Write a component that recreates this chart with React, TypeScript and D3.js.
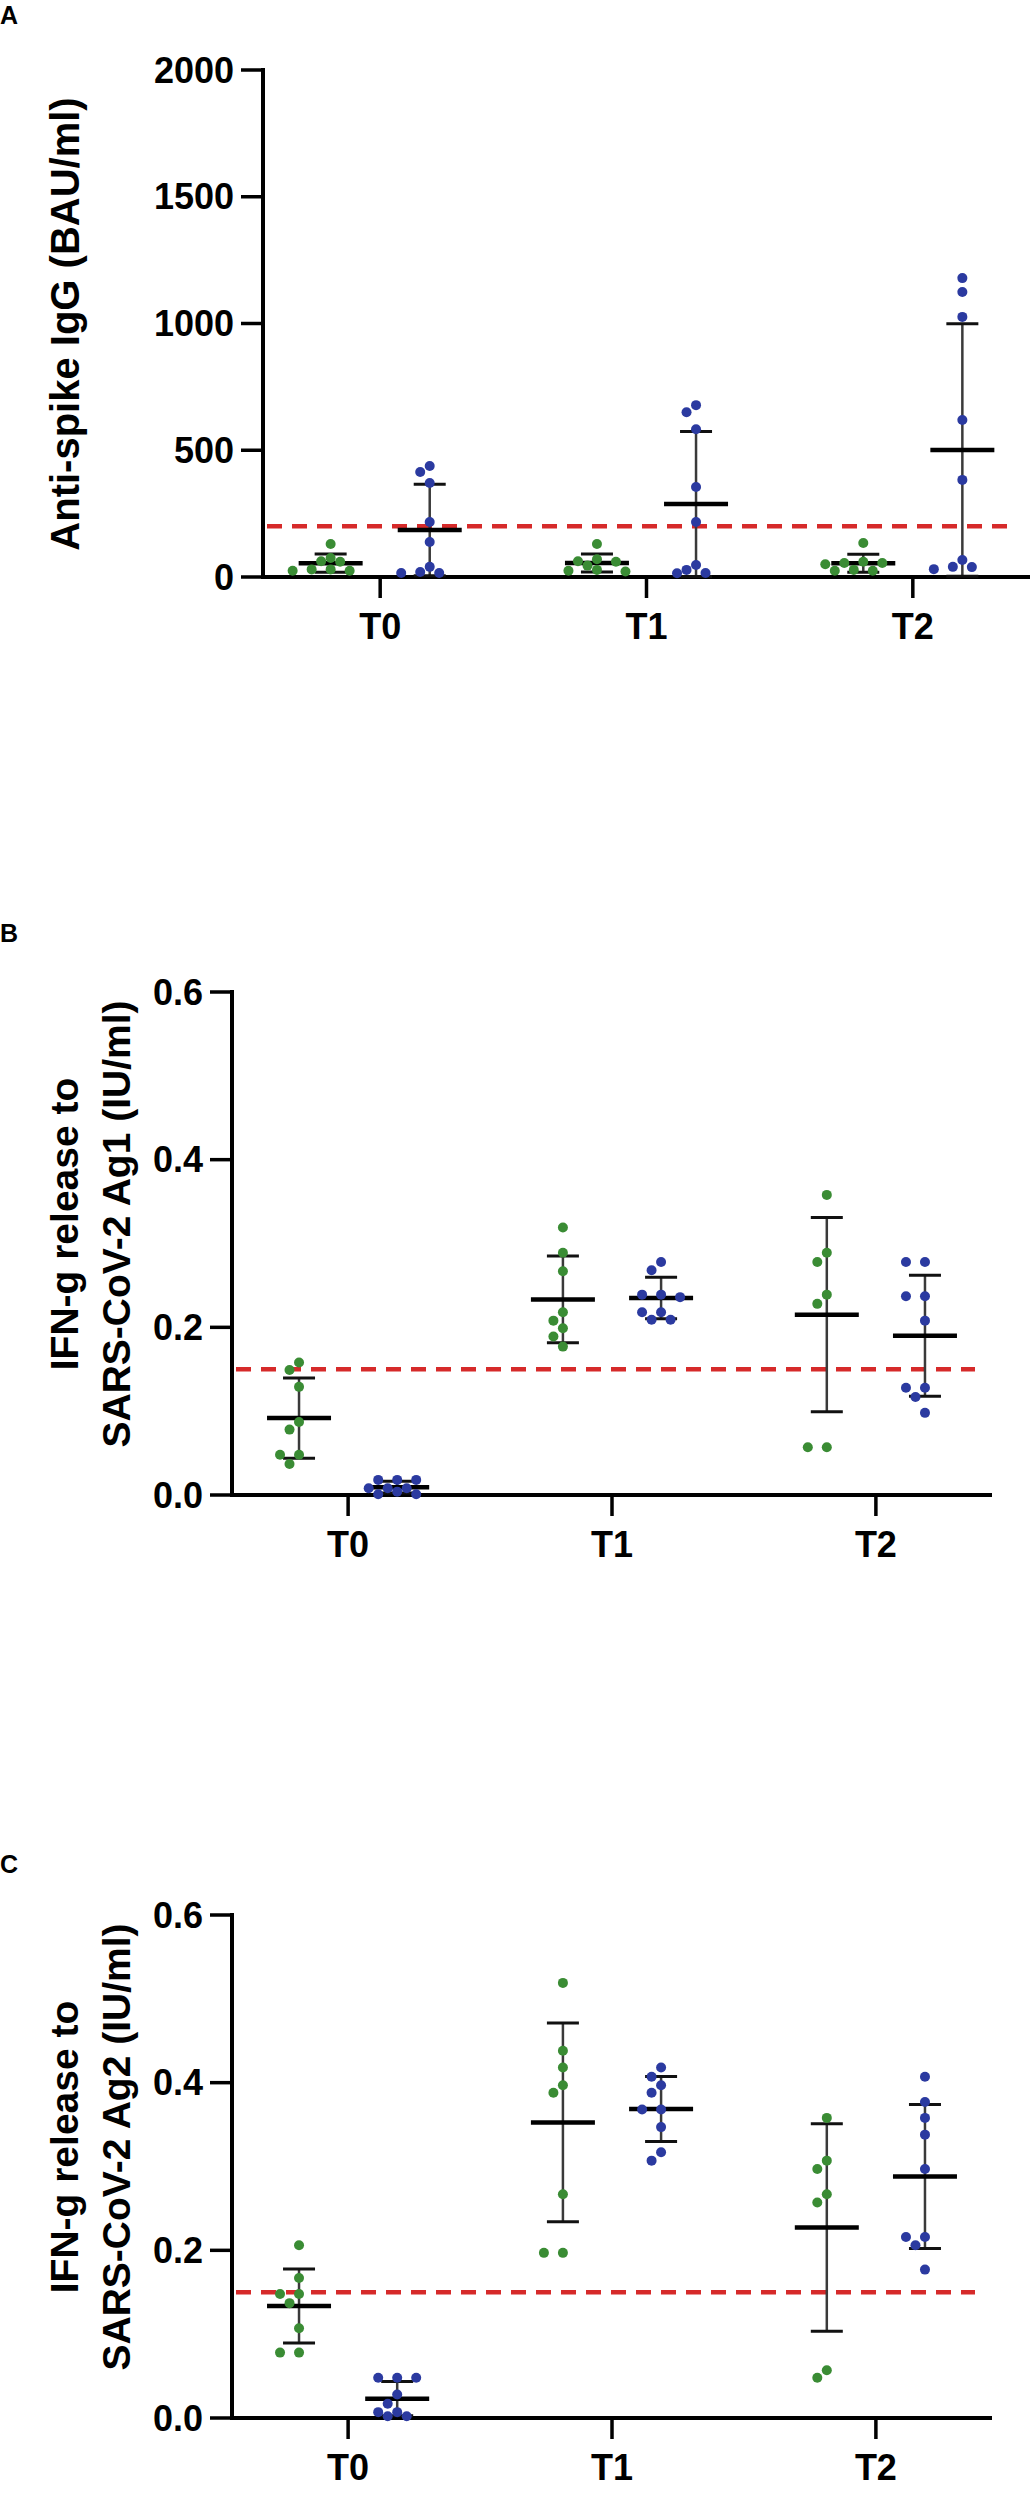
import React from "react";
import * as d3 from "d3";

// ---------- data ----------
const timepoints = ["T0", "T1", "T2"];
const panelLetters = ["A", "B", "C"];

const titleA = ["Anti-spike IgG (BAU/ml)"];
const titleB = ["IFN-g release to", "SARS-CoV-2 Ag1 (IU/ml)"];
const titleC = ["IFN-g release to", "SARS-CoV-2 Ag2 (IU/ml)"];

const ticksA = [0, 500, 1000, 1500, 2000];
const tickLabelsA = ["0", "500", "1000", "1500", "2000"];
const ticksBC = [0, 0.2, 0.4, 0.6];
const tickLabelsBC = ["0.0", "0.2", "0.4", "0.6"];

const thresholdA = 200;
const thresholdBC = 0.15;

// Panel A: anti-spike IgG
const aGreenT0 = [130, 60, 25, 30, 62, 25, 75, 30];
const aGreenT1 = [130, 62, 28, 45, 70, 25, 60, 22];
const aGreenT2 = [134, 55, 25, 50, 25, 55, 28, 60];
const aBlueT0 = [438, 414, 371, 217, 138, 40, 16, 16, 20];
const aBlueT1 = [678, 650, 583, 355, 217, 47, 15, 16, 28];
const aBlueT2 = [1179, 1124, 1026, 619, 383, 67, 31, 39, 40];

// Panel B: IFN-g Ag1
const bGreenT0 = [0.158, 0.149, 0.129, 0.087, 0.078, 0.048, 0.048, 0.037];
const bGreenT1 = [0.319, 0.289, 0.267, 0.218, 0.208, 0.199, 0.189, 0.177];
const bGreenT2 = [0.358, 0.289, 0.278, 0.239, 0.228, 0.057, 0.057];
const bBlueT0 = [0.018, 0.018, 0.018, 0.008, 0.008, 0.008, 0.004, 0.001, 0.001];
const bBlueT1 = [0.278, 0.268, 0.239, 0.236, 0.239, 0.218, 0.209, 0.209, 0.218];
const bBlueT2 = [0.278, 0.278, 0.237, 0.237, 0.208, 0.128, 0.128, 0.117, 0.098];

// Panel C: IFN-g Ag2
const cGreenT0 = [0.206, 0.167, 0.148, 0.148, 0.137, 0.107, 0.078, 0.078];
const cGreenT1 = [0.519, 0.438, 0.418, 0.397, 0.388, 0.267, 0.197, 0.197];
const cGreenT2 = [0.358, 0.307, 0.297, 0.267, 0.257, 0.057, 0.048];
const cBlueT0 = [0.048, 0.048, 0.048, 0.028, 0.017, 0.007, 0.007, 0.002, 0.002];
const cBlueT1 = [0.418, 0.407, 0.397, 0.388, 0.368, 0.368, 0.347, 0.307, 0.317];
const cBlueT2 = [0.407, 0.377, 0.358, 0.338, 0.297, 0.216, 0.216, 0.206, 0.177];

// ---------- styles ----------
const GREEN = "#3a8c34";
const BLUE = "#2b3aa0";
const RED = "#d62a2a";
const FONT = "'Liberation Sans', Arial, Helvetica, sans-serif";

const panels = [
  {
    letter: panelLetters[0], letterY: 24,
    title: titleA, titleSize: 40, titleBaselines: [79], titleCenter: 324,
    ticks: ticksA, tickLabels: tickLabelsA, yMax: 2000, threshold: thresholdA,
    axisX: 263, axisRight: 1030, yTop: 70, yBottom: 577,
    green: [aGreenT0, aGreenT1, aGreenT2], blue: [aBlueT0, aBlueT1, aBlueT2],
  },
  {
    letter: panelLetters[1], letterY: 942,
    title: titleB, titleSize: 39, titleBaselines: [78, 130], titleCenter: 1224,
    ticks: ticksBC, tickLabels: tickLabelsBC, yMax: 0.6, threshold: thresholdBC,
    axisX: 232, axisRight: 992, yTop: 992, yBottom: 1495,
    green: [bGreenT0, bGreenT1, bGreenT2], blue: [bBlueT0, bBlueT1, bBlueT2],
  },
  {
    letter: panelLetters[2], letterY: 1873,
    title: titleC, titleSize: 39, titleBaselines: [78, 130], titleCenter: 2147,
    ticks: ticksBC, tickLabels: tickLabelsBC, yMax: 0.6, threshold: thresholdBC,
    axisX: 232, axisRight: 992, yTop: 1915, yBottom: 2418,
    green: [cGreenT0, cGreenT1, cGreenT2], blue: [cBlueT0, cBlueT1, cBlueT2],
  },
];

const R = 5;

function swarm(values: number[], cx: number, y: (v: number) => number) {
  const sorted = [...values].sort((a, b) => b - a);
  const placed: { x: number; y: number }[] = [];
  const step = 9.5;
  for (const v of sorted) {
    const py = y(v);
    for (let k = 0; k < 60; k++) {
      const off = k === 0 ? 0 : (k % 2 === 1 ? -1 : 1) * Math.ceil(k / 2) * step;
      const px = cx + off;
      if (placed.every((p) => Math.hypot(p.x - px, p.y - py) >= 2 * R)) {
        placed.push({ x: px, y: py });
        break;
      }
    }
  }
  return placed;
}

function Group({ values, cx, y, color, yMin }: any) {
  const m = d3.mean(values) as number;
  const sd = d3.deviation(values) as number;
  const top = y(m + sd);
  const bot = y(Math.max(yMin, m - sd));
  const pts = swarm(values, cx, y);
  return (
    <g>
      <line x1={cx} x2={cx} y1={top} y2={bot} stroke="#3a3a3a" strokeWidth={2.5} />
      <line x1={cx - 16} x2={cx + 16} y1={top} y2={top} stroke="#111" strokeWidth={3} />
      {m - sd > yMin && (
        <line x1={cx - 16} x2={cx + 16} y1={bot} y2={bot} stroke="#111" strokeWidth={3} />
      )}
      <line x1={cx - 32} x2={cx + 32} y1={y(m)} y2={y(m)} stroke="#000" strokeWidth={4.5} />
      {pts.map((p, i) => (
        <circle key={i} cx={p.x} cy={p.y} r={R} fill={color} />
      ))}
    </g>
  );
}

function Panel({ p }: any) {
  const y = d3.scaleLinear().domain([0, p.yMax]).range([p.yBottom, p.yTop]);
  const x = d3.scalePoint<string>().domain(timepoints).range([p.axisX, p.axisRight]).padding(0.44);
  const off = x.step() * 0.186;
  const ty = y(p.threshold);
  return (
    <g>
      <text x={0} y={p.letterY} fontFamily={FONT} fontWeight="bold" fontSize={25}>
        {p.letter}
      </text>
      {p.title.map((t: string, i: number) => (
        <text
          key={i}
          transform={`translate(${p.titleBaselines[i]},${p.titleCenter}) rotate(-90)`}
          textAnchor="middle"
          fontFamily={FONT}
          fontWeight="bold"
          fontSize={p.titleSize}
        >
          {t}
        </text>
      ))}
      {/* y axis */}
      <line x1={p.axisX} x2={p.axisX} y1={p.yTop - 2} y2={p.yBottom + 2} stroke="#000" strokeWidth={4} />
      {p.ticks.map((t: number, i: number) => (
        <g key={i}>
          <line x1={p.axisX - 22} x2={p.axisX} y1={y(t)} y2={y(t)} stroke="#000" strokeWidth={3.5} />
          <text
            x={p.axisX - 29}
            y={y(t)}
            textAnchor="end"
            dominantBaseline="central"
            fontFamily={FONT}
            fontWeight="bold"
            fontSize={36}
          >
            {p.tickLabels[i]}
          </text>
        </g>
      ))}
      {/* x axis */}
      <line x1={p.axisX} x2={p.axisRight} y1={p.yBottom} y2={p.yBottom} stroke="#000" strokeWidth={4} />
      {timepoints.map((t) => (
        <g key={t}>
          <line x1={x(t)} x2={x(t)} y1={p.yBottom} y2={p.yBottom + 21} stroke="#000" strokeWidth={3.5} />
          <text
            x={x(t)}
            y={p.yBottom + 62}
            textAnchor="middle"
            fontFamily={FONT}
            fontWeight="bold"
            fontSize={36}
          >
            {t}
          </text>
        </g>
      ))}
      {/* threshold */}
      <line
        x1={p.axisX + 4}
        x2={p.axisRight - 17}
        y1={ty}
        y2={ty}
        stroke={RED}
        strokeWidth={4.5}
        strokeDasharray="15 10"
      />
      {timepoints.map((t, i) => (
        <g key={t}>
          <Group values={p.green[i]} cx={(x(t) as number) - off} y={y} color={GREEN} yMin={0} />
          <Group values={p.blue[i]} cx={(x(t) as number) + off} y={y} color={BLUE} yMin={0} />
        </g>
      ))}
    </g>
  );
}

export default function App() {
  return (
    <svg
      width={1035}
      height={2495}
      style={{ position: "absolute", left: 0, top: 0, background: "#fff" }}
    >
      {panels.map((p, i) => (
        <Panel key={i} p={p} />
      ))}
    </svg>
  );
}
